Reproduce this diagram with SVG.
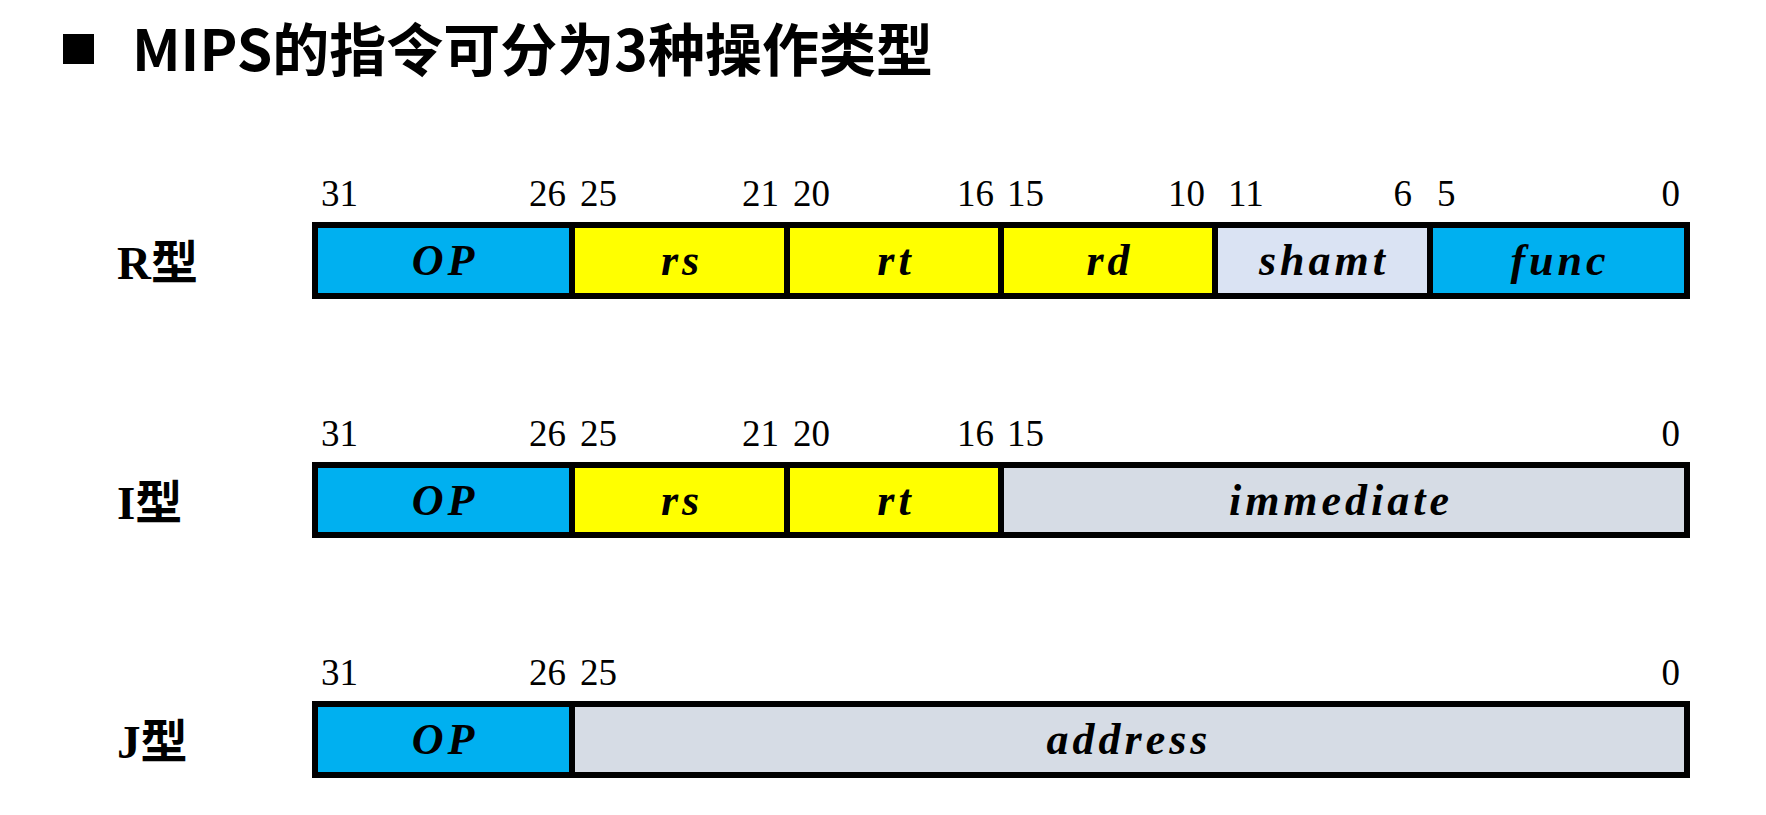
<svg xmlns="http://www.w3.org/2000/svg" width="1766" height="815" viewBox="0 0 1766 815">
<style>
.title{font-family:"Noto Sans CJK SC","Noto Sans",sans-serif;font-weight:bold;font-size:57px;fill:#000}
.row{font-family:"Liberation Serif","Noto Sans CJK SC",serif;font-weight:bold;font-size:47px;fill:#000}
.bit{font-family:"Liberation Serif",serif;font-size:37px;fill:#000}
.fld{font-family:"Liberation Serif",serif;font-weight:bold;font-style:italic;font-size:44px;letter-spacing:4px;fill:#000;text-anchor:middle}
.box{stroke:#000;stroke-width:6}
.blue{fill:#00B0F0}
.yel{fill:#FFFF00}
.lt{fill:#DAE3F3}
.gr{fill:#D6DCE5}
.e{text-anchor:end}
</style>
<rect width="1766" height="815" fill="#fff"/>
<g id="title">
<rect x="63" y="34" width="31" height="30" fill="#000"/>
<text class="title" x="132" y="71">MIPS的指令可分为3种操作类型</text>
</g>
<g id="R-type">
<text class="row" x="117" y="279">R型</text>
<rect class="box blue" x="315" y="225" width="257" height="71"/>
<rect class="box yel" x="572" y="225" width="215" height="71"/>
<rect class="box yel" x="787" y="225" width="214" height="71"/>
<rect class="box yel" x="1001" y="225" width="214" height="71"/>
<rect class="box lt" x="1215" y="225" width="215" height="71"/>
<rect class="box blue" x="1430" y="225" width="257" height="71"/>
<text class="fld" x="445" y="275">OP</text>
<text class="fld" x="682" y="275">rs</text>
<text class="fld" x="896" y="275">rt</text>
<text class="fld" x="1110" y="275">rd</text>
<text class="fld" x="1324" y="275">shamt</text>
<text class="fld" x="1560" y="275">func</text>
<text class="bit" x="321" y="206">31</text>
<text class="bit e" x="566" y="206">26</text>
<text class="bit" x="580" y="206">25</text>
<text class="bit e" x="779" y="206">21</text>
<text class="bit" x="793" y="206">20</text>
<text class="bit e" x="994" y="206">16</text>
<text class="bit" x="1007" y="206">15</text>
<text class="bit e" x="1205" y="206">10</text>
<text class="bit" x="1228" y="206">11</text>
<text class="bit e" x="1412" y="206">6</text>
<text class="bit" x="1437" y="206">5</text>
<text class="bit e" x="1680" y="206">0</text>
</g>
<g id="I-type">
<text class="row" x="117" y="519">I型</text>
<rect class="box blue" x="315" y="465" width="257" height="70"/>
<rect class="box yel" x="572" y="465" width="215" height="70"/>
<rect class="box yel" x="787" y="465" width="214" height="70"/>
<rect class="box gr" x="1001" y="465" width="686" height="70"/>
<text class="fld" x="445" y="515">OP</text>
<text class="fld" x="682" y="515">rs</text>
<text class="fld" x="896" y="515">rt</text>
<text class="fld" x="1341" y="515">immediate</text>
<text class="bit" x="321" y="446">31</text>
<text class="bit e" x="566" y="446">26</text>
<text class="bit" x="580" y="446">25</text>
<text class="bit e" x="779" y="446">21</text>
<text class="bit" x="793" y="446">20</text>
<text class="bit e" x="994" y="446">16</text>
<text class="bit" x="1007" y="446">15</text>
<text class="bit e" x="1680" y="446">0</text>
</g>
<g id="J-type">
<text class="row" x="117" y="758">J型</text>
<rect class="box blue" x="315" y="704" width="257" height="71"/>
<rect class="box gr" x="572" y="704" width="1115" height="71"/>
<text class="fld" x="445" y="754">OP</text>
<text class="fld" x="1129" y="754">address</text>
<text class="bit" x="321" y="685">31</text>
<text class="bit e" x="566" y="685">26</text>
<text class="bit" x="580" y="685">25</text>
<text class="bit e" x="1680" y="685">0</text>
</g>
<g id="connectors"></g>
</svg>
